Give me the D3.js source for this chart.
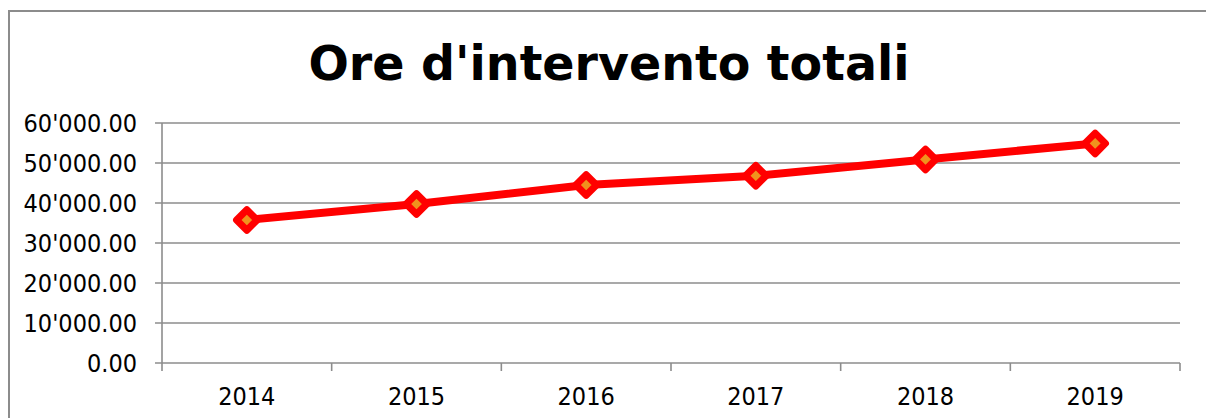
<!DOCTYPE html>
<html>
<head>
<meta charset="utf-8">
<script src="https://cdn.jsdelivr.net/npm/d3@7"></script>
<style>
  html, body { margin: 0; padding: 0; background: #fff; }
  svg { display: block; }
  .lbl { font-family: "DejaVu Sans Condensed", "DejaVu Sans", sans-serif; font-stretch: condensed; font-size: 25px; fill: #000; }
</style>
</head>
<body>
<div id="chart"></div>
<script>
const years = ["2014", "2015", "2016", "2017", "2018", "2019"];
const hours = [35750, 39750, 44500, 46800, 50900, 54900];
const yTicks = [0, 10000, 20000, 30000, 40000, 50000, 60000];
const title = "Ore d'intervento totali";

const width = 1206, height = 418;
const plotLeft = 162, plotRight = 1180, plotTop = 123, plotBottom = 363;

const svg = d3.select("#chart").append("svg")
    .attr("width", width)
    .attr("height", height);

// chart frame
svg.append("rect")
    .attr("x", 9).attr("y", 11)
    .attr("width", 1210).attr("height", 430)
    .attr("fill", "none")
    .attr("stroke", "#8c8c8c")
    .attr("stroke-width", 2);

svg.append("text")
    .attr("x", 609)
    .attr("y", 80)
    .attr("text-anchor", "middle")
    .style("font-family", "'DejaVu Sans', sans-serif")
    .style("font-weight", "bold")
    .style("font-size", "47.5px")
    .text(title);

const x = d3.scaleBand().domain(years).range([plotLeft, plotRight]);
const y = d3.scaleLinear().domain([0, 60000]).range([plotBottom, plotTop]);

const fmt = v => d3.format(",.2f")(v).replace(/,/g, "'");

// gridlines
svg.append("g")
    .selectAll("line")
    .data(yTicks)
    .join("line")
    .attr("x1", plotLeft - 7)
    .attr("x2", plotRight)
    .attr("y1", d => y(d))
    .attr("y2", d => y(d))
    .attr("stroke", "#8c8c8c")
    .attr("stroke-width", 1.6);

// y labels
svg.append("g")
    .selectAll("text")
    .data(yTicks)
    .join("text")
    .attr("class", "lbl")
    .attr("x", 137)
    .attr("y", d => y(d))
    .attr("dy", "0.36em")
    .attr("text-anchor", "end")
    .text(fmt);

// y axis line
svg.append("line")
    .attr("x1", plotLeft).attr("x2", plotLeft)
    .attr("y1", plotTop).attr("y2", plotBottom + 8)
    .attr("stroke", "#8c8c8c")
    .attr("stroke-width", 1.6);

// x tick marks at band boundaries
const bounds = years.map(d => x(d)).concat([plotRight]);
svg.append("g")
    .selectAll("line")
    .data(bounds.slice(1))
    .join("line")
    .attr("x1", d => d).attr("x2", d => d)
    .attr("y1", plotBottom).attr("y2", plotBottom + 8)
    .attr("stroke", "#8c8c8c")
    .attr("stroke-width", 1.6);

// x labels
svg.append("g")
    .selectAll("text")
    .data(years)
    .join("text")
    .attr("class", "lbl")
    .attr("x", d => x(d) + x.bandwidth() / 2)
    .attr("y", 405)
    .attr("text-anchor", "middle")
    .text(d => d);

// series
const pts = years.map((d, i) => ({ year: d, value: hours[i] }));
const line = d3.line()
    .x(d => x(d.year) + x.bandwidth() / 2)
    .y(d => y(d.value));

svg.append("path")
    .datum(pts)
    .attr("d", line)
    .attr("fill", "none")
    .attr("stroke", "#ff0000")
    .attr("stroke-width", 8)
    .attr("stroke-linejoin", "round");

const diamond = d3.symbol().type(d3.symbolDiamond2).size(270);
svg.append("g")
    .selectAll("path")
    .data(pts)
    .join("path")
    .attr("d", diamond)
    .attr("transform", d => `translate(${x(d.year) + x.bandwidth() / 2},${y(d.value)})`)
    .attr("fill", "#f0921e")
    .attr("stroke", "#ff0000")
    .attr("stroke-width", 7)
    .attr("stroke-linejoin", "round");
</script>
</body>
</html>
